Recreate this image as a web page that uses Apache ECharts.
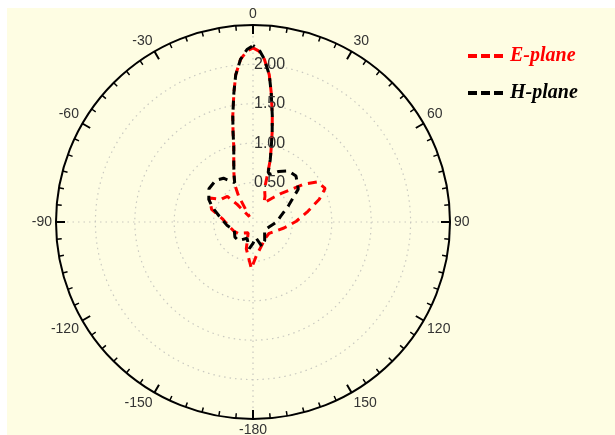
<!DOCTYPE html>
<html>
<head>
<meta charset="utf-8">
<script src="https://cdn.jsdelivr.net/npm/echarts@6/dist/echarts.min.js"></script>
<style>
html,body{margin:0;padding:0;background:#ffffff;}
#c{position:absolute;left:7px;top:8px;width:608px;height:427px;}
</style>
</head>
<body>
<div id="c"></div>
<script>
// ---- data (angle in degrees, clockwise from top; value = radius) ----
const seriesNames = ['E-plane', 'H-plane'];

const ePlaneAngles = [0, 2, 4, 6.3, 8, 10.3, 12, 13.7, 15.5, 17, 19, 25, 30, 40, 45, 49, 53, 58, 65, 71, 79, 89, 101, 125, 145, 156, 175, 182, 194, 204, 233, 245, 260, 276, 287, 299, 305, 315, 318, 326, 331, 334, 338.5, 342, 345.6, 347.5, 349.2, 351.6, 353.3, 355.6, 358, 360];
const ePlaneValues = [2.21, 2.17, 2.07, 1.88, 1.66, 1.37, 1.17, 0.98, 0.82, 0.63, 0.45, 0.36, 0.28, 0.41, 0.52, 0.62, 0.79, 0.96, 1.01, 0.89, 0.71, 0.55, 0.40, 0.25, 0.26, 0.30, 0.44, 0.59, 0.35, 0.15, 0.24, 0.27, 0.31, 0.39, 0.55, 0.63, 0.50, 0.46, 0.30, 0.08, 0.38, 0.53, 0.66, 0.79, 0.98, 1.17, 1.37, 1.66, 1.88, 2.07, 2.17, 2.21];

const hPlaneAngles = [0, 2, 4, 6.3, 8, 10.3, 12, 13.7, 15.5, 17, 19, 27, 35, 43, 54, 65, 78, 90, 105, 125, 148, 160, 170, 180, 188, 200, 218, 230, 246, 262, 278, 290, 297, 302, 307, 318, 326, 335, 338.5, 342, 345.6, 347.5, 349.2, 351.6, 353.3, 355.6, 358, 360];
const hPlaneValues = [2.24, 2.19, 2.07, 1.88, 1.66, 1.37, 1.17, 0.98, 0.82, 0.66, 0.64, 0.72, 0.79, 0.80, 0.71, 0.50, 0.36, 0.30, 0.22, 0.18, 0.28, 0.33, 0.20, 0.27, 0.34, 0.22, 0.30, 0.30, 0.26, 0.33, 0.42, 0.55, 0.63, 0.66, 0.70, 0.71, 0.67, 0.55, 0.66, 0.79, 0.98, 1.17, 1.37, 1.66, 1.88, 2.07, 2.19, 2.24];

const radiusTicks = [0, 0.5, 1.0, 1.5, 2.0, 2.5];
const angleTickLabels = ['0', '30', '60', '90', '120', '150', '-180', '-150', '-120', '-90', '-60', '-30'];

function toPairs(angles, values) {
  return angles.map((a, i) => [values[i], a]);
}

const center = [246, 214];
const radius = 197;
const dotted = { color: '#c9c9c0', width: 1.2, type: [1.5, 4] };

const chart = echarts.init(document.getElementById('c'), null, { renderer: 'canvas' });
chart.setOption({
  animation: false,
  backgroundColor: '#FEFDE3',
  polar: [
    { center: center, radius: radius },
    { center: center, radius: radius }
  ],
  angleAxis: [
    {
      polarIndex: 0, type: 'value', min: 0, max: 360, interval: 30,
      startAngle: 90, clockwise: true,
      axisLine: { show: true, lineStyle: { color: '#000', width: 2 } },
      axisTick: { show: true, inside: true, length: 9, lineStyle: { color: '#000', width: 2 } },
      minorTick: { show: true, splitNumber: 6, length: 5, lineStyle: { color: '#000', width: 1.5 } },
      splitLine: { show: false },
      axisLabel: {
        show: true, margin: 4, fontSize: 14, color: '#333', fontFamily: 'Liberation Sans',
        formatter: function (v) {
          const idx = Math.round(v / 30);
          return idx >= 12 ? '' : angleTickLabels[idx];
        }
      },
      z: 1
    },
    {
      polarIndex: 1, type: 'value', min: 0, max: 360, interval: 90,
      startAngle: 90, clockwise: true,
      axisLine: { show: false }, axisTick: { show: false }, axisLabel: { show: false },
      splitLine: { show: true, lineStyle: dotted },
      z: 0
    }
  ],
  radiusAxis: [
    {
      polarIndex: 0, type: 'value', min: radiusTicks[0], max: radiusTicks[radiusTicks.length - 1], interval: 0.5,
      axisLine: { show: false }, axisTick: { show: false }, splitLine: { show: false },
      axisLabel: {
        show: true, align: 'left', margin: -1, fontSize: 16, color: '#333', fontFamily: 'Liberation Sans',
        padding: [0, 0, 3, 0],
        formatter: function (v) {
          return (v > radiusTicks[0] && v < radiusTicks[radiusTicks.length - 1]) ? v.toFixed(2) : '';
        }
      },
      z: 10
    },
    {
      polarIndex: 1, type: 'value', min: radiusTicks[0], max: radiusTicks[radiusTicks.length - 1], interval: 0.5,
      axisLine: { show: false }, axisTick: { show: false }, axisLabel: { show: false },
      splitLine: { show: true, lineStyle: dotted },
      z: 0
    }
  ],
  legend: {
    orient: 'vertical', left: 456, top: 33, itemGap: 17,
    itemWidth: 35, itemHeight: 4,
    icon: 'path://M0,0H9V4H0Z M13,0H22V4H13Z M26,0H35V4H26Z',
    itemStyle: { borderWidth: 0 },
    textStyle: { fontFamily: 'Liberation Serif', fontStyle: 'italic', fontWeight: 'bold', fontSize: 20, padding: [0, 0, 0, 2] },
    data: [
      { name: seriesNames[0], textStyle: { color: '#ff0000' } },
      { name: seriesNames[1], textStyle: { color: '#000000' } }
    ]
  },
  series: [
    {
      name: seriesNames[0], type: 'line', coordinateSystem: 'polar', polarIndex: 0,
      data: toPairs(ePlaneAngles, ePlaneValues),
      symbol: 'none', showSymbol: false, smooth: false,
      lineStyle: { color: '#ff0000', width: 3, type: [9, 6] },
      itemStyle: { color: '#ff0000' },
      z: 3
    },
    {
      name: seriesNames[1], type: 'line', coordinateSystem: 'polar', polarIndex: 0,
      data: toPairs(hPlaneAngles, hPlaneValues),
      symbol: 'none', showSymbol: false, smooth: false,
      lineStyle: { color: '#000000', width: 3, type: [9, 6], dashOffset: 7 },
      itemStyle: { color: '#000000' },
      z: 4
    }
  ]
});
</script>
</body>
</html>
